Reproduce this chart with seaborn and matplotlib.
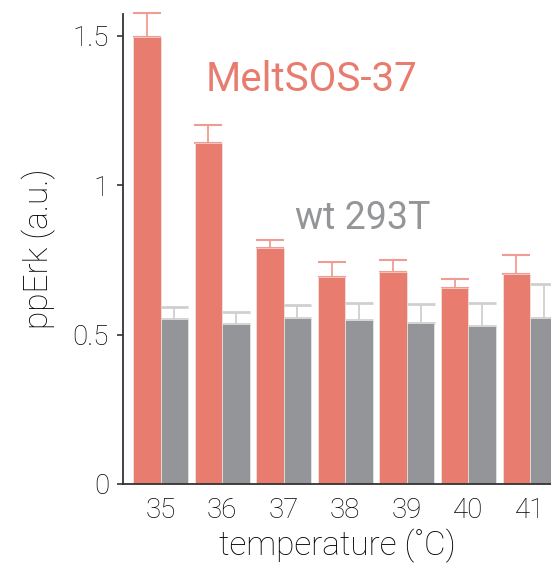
import matplotlib
matplotlib.use("Agg")
import matplotlib.pyplot as plt
import seaborn as sns
import pandas as pd
import numpy as np

temps = ['35', '36', '37', '38', '39', '40', '41']
melt_vals = [1.497, 1.142, 0.790, 0.694, 0.709, 0.657, 0.703]
melt_err = [0.080, 0.060, 0.027, 0.050, 0.041, 0.029, 0.064]
wt_vals = [0.552, 0.537, 0.556, 0.549, 0.538, 0.530, 0.557]
wt_err = [0.040, 0.038, 0.042, 0.056, 0.065, 0.075, 0.112]
groups = ['MeltSOS-37', 'wt 293T']
yticks = [0, 0.5, 1, 1.5]
ytick_labels = ['0', '0.5', '1', '1.5']

SALMON = '#E77C6F'
GRAY = '#939598'
SALMON_ERR = '#F09C92'
GRAY_ERR = '#CFCFCF'

sns.set_style("ticks")
plt.rcParams['font.family'] = ['Roboto', 'Liberation Sans', 'DejaVu Sans']
plt.rcParams['font.weight'] = 'light'
plt.rcParams['axes.labelweight'] = 'light'

df = pd.DataFrame({
    'temp': temps * 2,
    'value': melt_vals + wt_vals,
    'group': [groups[0]] * len(temps) + [groups[1]] * len(temps),
})

fig = plt.figure(figsize=(5.51, 5.73), dpi=100)
ax = fig.add_axes([123 / 551, 89 / 573, 1 - 123 / 551, (484 - 14) / 573])

sns.barplot(data=df, x='temp', y='value', hue='group', order=temps,
            hue_order=groups, palette=[SALMON, GRAY], saturation=1,
            width=0.894, errorbar=None, edgecolor='#f3f3f3', linewidth=0.4,
            ax=ax, legend=False, zorder=2)

for cont, errs, col, lw in zip(ax.containers, [melt_err, wt_err],
                               [SALMON_ERR, GRAY_ERR], [1.5, 2.0]):
    xs = [b.get_x() + b.get_width() / 2 for b in cont]
    hs = [b.get_height() for b in cont]
    ax.errorbar(xs, hs, yerr=[np.zeros(len(errs)), errs], fmt='none',
                ecolor=col, elinewidth=1.3, capsize=9.8, capthick=lw,
                zorder=1, clip_on=False)

ax.set_xlim(-0.609, 6.34)
ax.set_ylim(0, 1.5735)
ax.set_yticks(yticks)
ax.set_yticklabels(ytick_labels)

for side in ['top', 'right']:
    ax.spines[side].set_visible(False)
for side in ['left', 'bottom']:
    ax.spines[side].set_color('#333333')
    ax.spines[side].set_linewidth(1.3)

ax.tick_params(axis='y', length=4, width=1.2, color='#333333', pad=6,
               labelsize=20, labelcolor='#000000')
ax.tick_params(axis='x', length=0, pad=9, labelsize=20, labelcolor='#000000')

ax.set_xlabel('temperature (˚C)', fontsize=24, color='#000000', labelpad=4,
              fontweight='light')
ax.set_ylabel('ppErk (a.u.)', fontsize=24, color='#000000', labelpad=12,
              fontweight='light')

ax.text(0.192, 0.86, 'MeltSOS-37', transform=ax.transAxes, fontsize=29,
        color=SALMON, ha='left', va='center', fontweight='normal')
ax.text(0.402, 0.565, 'wt 293T', transform=ax.transAxes, fontsize=27,
        color=GRAY, ha='left', va='center', fontweight='normal')

fig.savefig('out.png', dpi=100)
